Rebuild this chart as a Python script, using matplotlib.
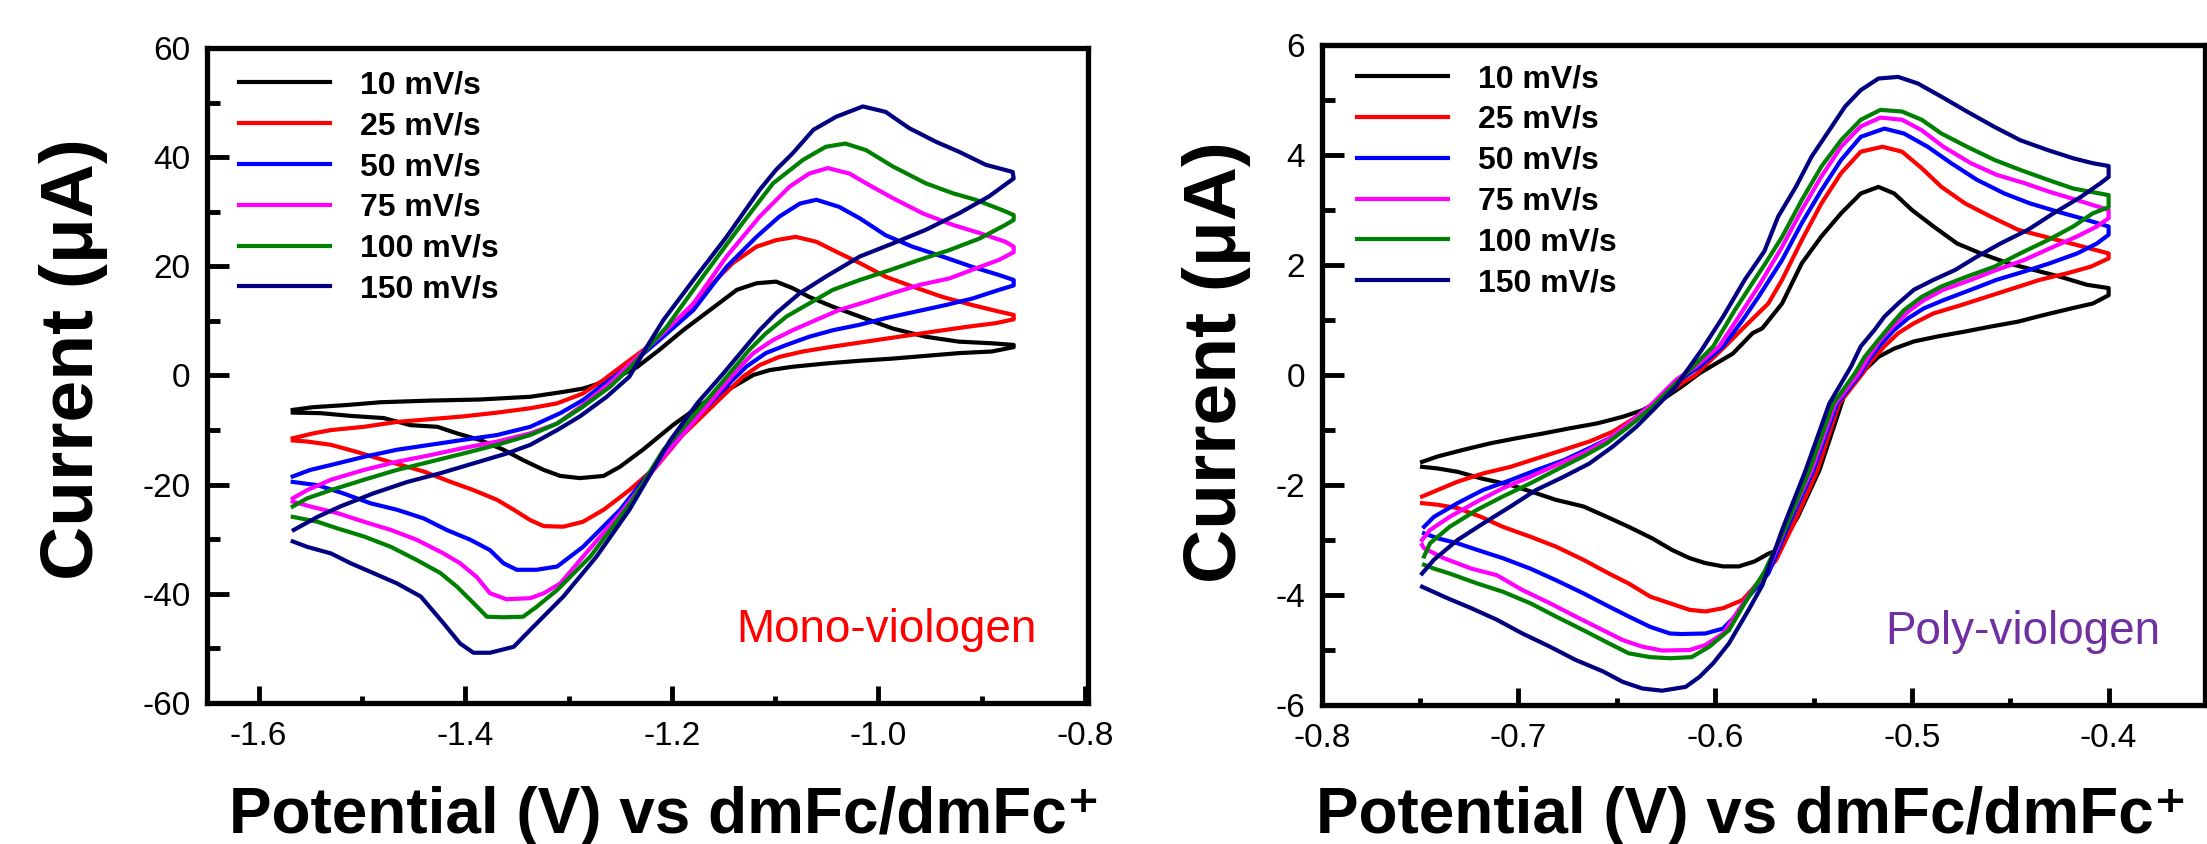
import matplotlib
matplotlib.use('Agg')
from matplotlib import pyplot as plt
from matplotlib.ticker import MultipleLocator

# scan rates and colours shared by both panels
rates = ['10 mV/s', '25 mV/s', '50 mV/s', '75 mV/s', '100 mV/s', '150 mV/s']
colors = ['#000000', '#ff0000', '#0000ff', '#ff00ff', '#008000', '#000080']

# ---- mono-viologen (left panel), potential in V, current in uA ----
mono_e_10 = [-1.567, -1.547, -1.514, -1.482, -1.434, -1.386, -1.337, -1.305, -1.286, -1.266, -1.250, -1.234,
             -1.212, -1.189, -1.163, -1.137, -1.118, -1.099, -1.083, -1.067, -1.044, -1.018, -0.986, -0.954,
             -0.922, -0.890, -0.869, -0.869, -0.890, -0.922, -0.954, -0.986, -1.018, -1.051, -1.083, -1.105,
             -1.121, -1.140, -1.163, -1.199, -1.228, -1.250, -1.266, -1.289, -1.308, -1.324, -1.344, -1.363,
             -1.386, -1.408, -1.427, -1.453, -1.479, -1.511, -1.540, -1.567]
mono_i_10 = [-6.3, -5.8, -5.4, -4.9, -4.6, -4.4, -3.9, -3.0, -2.4, -1.2, 0.0, 1.5,
             4.7, 8.3, 12.0, 15.7, 16.9, 17.2, 16.0, 14.4, 12.6, 10.8, 8.6, 7.1,
             6.2, 5.9, 5.6, 5.2, 4.4, 4.1, 3.6, 3.1, 2.7, 2.2, 1.6, 1.0,
             0.1, -2.0, -4.2, -9.1, -13.6, -16.7, -18.4, -18.8, -18.4, -17.3, -15.5, -13.6,
             -11.8, -10.6, -9.4, -9.1, -7.8, -7.4, -6.9, -6.8]

mono_e_25 = [-1.567, -1.547, -1.530, -1.498, -1.466, -1.434, -1.402, -1.369, -1.337, -1.311, -1.286, -1.266,
             -1.250, -1.225, -1.199, -1.170, -1.141, -1.118, -1.099, -1.080, -1.060, -1.041, -1.018, -0.993,
             -0.967, -0.938, -0.909, -0.883, -0.869, -0.869, -0.886, -0.915, -0.948, -0.980, -1.012, -1.044,
             -1.073, -1.096, -1.115, -1.131, -1.160, -1.190, -1.215, -1.241, -1.266, -1.286, -1.305, -1.324,
             -1.337, -1.353, -1.369, -1.392, -1.414, -1.440, -1.479, -1.505, -1.530, -1.553, -1.567]
mono_i_25 = [-11.5, -10.6, -10.0, -9.4, -8.5, -8.0, -7.5, -6.8, -6.0, -5.1, -3.3, -0.8,
             1.5, 5.0, 8.9, 15.1, 20.6, 23.6, 24.8, 25.4, 24.5, 22.7, 20.6, 18.1,
             16.3, 14.4, 12.9, 11.7, 11.1, 10.3, 9.6, 8.9, 8.0, 7.1, 6.2, 5.3,
             4.4, 3.4, 1.9, -0.2, -5.5, -11.0, -16.7, -21.0, -24.6, -26.8, -27.7, -27.6,
             -26.5, -24.6, -22.8, -21.0, -19.5, -17.6, -15.5, -14.0, -12.7, -12.1, -11.9]

mono_e_50 = [-1.567, -1.550, -1.530, -1.498, -1.466, -1.434, -1.402, -1.369, -1.337, -1.308, -1.286, -1.260,
             -1.240, -1.212, -1.179, -1.147, -1.118, -1.096, -1.076, -1.060, -1.038, -1.018, -0.993, -0.967,
             -0.938, -0.909, -0.883, -0.869, -0.869, -0.883, -0.909, -0.935, -0.964, -0.993, -1.018, -1.044,
             -1.067, -1.089, -1.109, -1.128, -1.141, -1.175, -1.212, -1.250, -1.286, -1.311, -1.331, -1.350,
             -1.363, -1.376, -1.395, -1.418, -1.440, -1.466, -1.492, -1.518, -1.543, -1.567]
mono_i_50 = [-18.5, -17.3, -16.4, -14.9, -13.6, -12.7, -11.8, -10.9, -9.4, -6.9, -4.5, -0.8,
             2.0, 6.5, 12.0, 19.9, 25.4, 29.1, 31.5, 32.2, 30.9, 28.8, 25.7, 23.6,
             21.8, 19.9, 18.4, 17.5, 16.5, 15.7, 14.1, 12.9, 11.7, 10.5, 9.3, 8.3,
             7.1, 5.6, 4.1, 1.6, -0.8, -7.5, -15.5, -24.6, -31.4, -35.0, -35.6, -35.6,
             -34.4, -32.0, -30.1, -28.3, -26.2, -24.6, -23.4, -21.6, -20.1, -19.5]

mono_e_75 = [-1.567, -1.553, -1.530, -1.498, -1.466, -1.434, -1.402, -1.369, -1.337, -1.311, -1.286, -1.260,
             -1.240, -1.212, -1.179, -1.147, -1.115, -1.086, -1.067, -1.049, -1.028, -1.009, -0.986, -0.957,
             -0.928, -0.902, -0.877, -0.869, -0.869, -0.883, -0.906, -0.931, -0.960, -0.986, -1.012, -1.038,
             -1.060, -1.083, -1.102, -1.121, -1.137, -1.170, -1.208, -1.247, -1.286, -1.308, -1.324, -1.337,
             -1.360, -1.376, -1.389, -1.405, -1.421, -1.447, -1.472, -1.498, -1.524, -1.550, -1.567]
mono_i_75 = [-22.5, -21.0, -19.1, -17.3, -15.8, -14.6, -13.3, -12.1, -10.6, -8.8, -5.4, -1.4,
             2.2, 7.1, 13.2, 21.8, 29.1, 34.6, 37.0, 38.0, 37.0, 34.9, 32.5, 29.7,
             27.6, 26.1, 24.5, 23.6, 22.6, 21.2, 19.6, 17.8, 16.6, 15.1, 13.5, 12.0,
             10.2, 8.3, 6.5, 4.1, 1.0, -6.5, -14.9, -24.6, -33.2, -38.1, -39.9, -40.8,
             -41.0, -39.9, -36.9, -34.4, -32.6, -30.1, -28.3, -26.8, -25.2, -24.0, -23.1]

mono_e_100 = [-1.567, -1.553, -1.530, -1.498, -1.466, -1.434, -1.402, -1.369, -1.337, -1.311, -1.286, -1.260,
              -1.240, -1.205, -1.170, -1.134, -1.102, -1.073, -1.051, -1.032, -1.012, -0.986, -0.954, -0.928,
              -0.906, -0.880, -0.869, -0.869, -0.877, -0.902, -0.931, -0.960, -0.989, -1.018, -1.044, -1.067,
              -1.089, -1.109, -1.125, -1.144, -1.175, -1.208, -1.240, -1.279, -1.311, -1.331, -1.344, -1.363,
              -1.379, -1.392, -1.408, -1.424, -1.447, -1.472, -1.498, -1.524, -1.543, -1.567]
mono_i_100 = [-24.0, -22.5, -21.0, -19.1, -17.3, -15.8, -14.3, -12.7, -10.9, -8.8, -5.7, -2.1,
              1.5, 8.9, 18.1, 27.3, 35.2, 39.5, 41.9, 42.5, 41.3, 38.3, 35.2, 33.4,
              32.2, 30.3, 29.4, 28.5, 27.6, 25.1, 23.0, 21.2, 19.3, 17.5, 15.7, 13.2,
              10.8, 7.7, 4.7, 0.4, -6.5, -13.6, -23.4, -33.2, -39.3, -42.4, -44.2, -44.3,
              -44.2, -41.7, -38.7, -36.2, -33.8, -31.4, -29.5, -28.0, -26.8, -25.9]

mono_e_150 = [-1.566, -1.543, -1.521, -1.489, -1.456, -1.424, -1.392, -1.360, -1.337, -1.311, -1.289, -1.263,
              -1.241, -1.225, -1.208, -1.179, -1.147, -1.115, -1.099, -1.083, -1.063, -1.041, -1.015, -0.993,
              -0.970, -0.944, -0.922, -0.896, -0.870, -0.869, -0.893, -0.922, -0.954, -0.986, -1.018, -1.051,
              -1.076, -1.099, -1.115, -1.131, -1.150, -1.175, -1.202, -1.241, -1.273, -1.305, -1.337, -1.353,
              -1.376, -1.392, -1.405, -1.421, -1.443, -1.466, -1.489, -1.511, -1.530, -1.553, -1.567]
mono_i_150 = [-28.3, -25.9, -24.0, -21.6, -19.5, -17.9, -16.1, -14.3, -12.7, -10.0, -7.5, -3.9,
              -0.2, 5.0, 10.2, 17.5, 25.4, 34.0, 37.7, 40.7, 45.0, 47.4, 49.3, 48.3,
              45.3, 42.8, 41.0, 38.6, 37.3, 36.1, 32.8, 29.7, 26.7, 24.2, 21.8, 18.1,
              15.1, 11.4, 8.3, 4.7, 0.4, -5.0, -12.0, -24.6, -33.2, -40.5, -46.6, -49.7,
              -50.8, -50.8, -49.1, -45.4, -40.5, -38.1, -36.2, -34.4, -32.6, -31.4, -30.4]

# ---- poly-viologen (right panel) ----
poly_e_10 = [-0.749, -0.741, -0.728, -0.714, -0.701, -0.687, -0.674, -0.660, -0.647, -0.637, -0.627, -0.617,
             -0.608, -0.591, -0.581, -0.576, -0.566, -0.556, -0.546, -0.536, -0.526, -0.517, -0.509, -0.500,
             -0.489, -0.477, -0.465, -0.451, -0.438, -0.425, -0.411, -0.400, -0.400, -0.408, -0.419, -0.433,
             -0.446, -0.460, -0.473, -0.487, -0.499, -0.509, -0.517, -0.524, -0.534, -0.547, -0.558, -0.568,
             -0.573, -0.580, -0.588, -0.596, -0.605, -0.613, -0.622, -0.632, -0.644, -0.655, -0.667, -0.681,
             -0.691, -0.704, -0.719, -0.731, -0.741, -0.749]
poly_i_10 = [-1.58, -1.48, -1.36, -1.24, -1.15, -1.06, -0.97, -0.88, -0.76, -0.64, -0.45, -0.21,
             0.03, 0.39, 0.76, 0.85, 1.30, 2.03, 2.52, 2.94, 3.30, 3.42, 3.30, 3.00,
             2.70, 2.39, 2.21, 2.03, 1.91, 1.79, 1.64, 1.58, 1.45, 1.30, 1.21, 1.09,
             0.97, 0.88, 0.79, 0.70, 0.61, 0.48, 0.33, 0.09, -0.33, -1.73, -2.58, -3.18,
             -3.25, -3.39, -3.48, -3.48, -3.42, -3.33, -3.18, -2.97, -2.76, -2.58, -2.39, -2.27,
             -2.15, -2.00, -1.88, -1.76, -1.70, -1.67]

poly_e_25 = [-0.749, -0.741, -0.731, -0.718, -0.704, -0.691, -0.677, -0.664, -0.652, -0.640, -0.628, -0.617,
             -0.610, -0.595, -0.585, -0.573, -0.566, -0.556, -0.546, -0.536, -0.526, -0.515, -0.505, -0.495,
             -0.485, -0.473, -0.460, -0.446, -0.433, -0.419, -0.400, -0.400, -0.409, -0.421, -0.435, -0.448,
             -0.462, -0.475, -0.489, -0.499, -0.507, -0.514, -0.521, -0.525, -0.537, -0.548, -0.560, -0.569,
             -0.580, -0.586, -0.596, -0.605, -0.613, -0.623, -0.633, -0.644, -0.654, -0.667, -0.681, -0.694,
             -0.708, -0.719, -0.731, -0.741, -0.749]
poly_i_25 = [-2.21, -2.09, -1.94, -1.79, -1.67, -1.52, -1.36, -1.21, -1.03, -0.76, -0.45, -0.15,
             0.00, 0.52, 0.88, 1.30, 1.73, 2.45, 3.12, 3.67, 4.06, 4.15, 4.06, 3.76,
             3.42, 3.12, 2.88, 2.64, 2.52, 2.39, 2.21, 2.12, 1.97, 1.85, 1.73, 1.58,
             1.42, 1.27, 1.12, 0.94, 0.76, 0.52, 0.24, 0.03, -0.52, -1.73, -2.70, -3.36,
             -3.85, -4.09, -4.24, -4.30, -4.27, -4.15, -4.03, -3.79, -3.61, -3.36, -3.12, -2.94,
             -2.76, -2.58, -2.42, -2.36, -2.33]

poly_e_50 = [-0.748, -0.743, -0.731, -0.718, -0.704, -0.691, -0.677, -0.664, -0.652, -0.640, -0.630, -0.618,
             -0.608, -0.596, -0.586, -0.578, -0.566, -0.556, -0.546, -0.536, -0.526, -0.514, -0.504, -0.492,
             -0.480, -0.467, -0.453, -0.440, -0.426, -0.414, -0.400, -0.400, -0.406, -0.416, -0.430, -0.443,
             -0.457, -0.470, -0.484, -0.494, -0.502, -0.509, -0.516, -0.522, -0.526, -0.538, -0.550, -0.563,
             -0.573, -0.583, -0.590, -0.596, -0.605, -0.617, -0.623, -0.633, -0.644, -0.654, -0.667, -0.681,
             -0.694, -0.708, -0.721, -0.731, -0.741, -0.748]
poly_i_50 = [-2.76, -2.58, -2.33, -2.09, -1.91, -1.73, -1.55, -1.33, -1.12, -0.82, -0.48, -0.09,
             0.15, 0.52, 1.00, 1.42, 2.09, 2.76, 3.36, 3.91, 4.33, 4.48, 4.39, 4.15,
             3.85, 3.55, 3.30, 3.12, 2.97, 2.85, 2.70, 2.55, 2.39, 2.21, 2.03, 1.88,
             1.73, 1.55, 1.36, 1.21, 1.03, 0.82, 0.55, 0.27, 0.03, -0.52, -1.73, -2.76,
             -3.61, -4.03, -4.39, -4.61, -4.70, -4.71, -4.70, -4.58, -4.39, -4.21, -3.97, -3.73,
             -3.52, -3.33, -3.18, -3.06, -2.97, -2.88]

poly_e_75 = [-0.749, -0.745, -0.735, -0.721, -0.708, -0.694, -0.681, -0.667, -0.655, -0.644, -0.632, -0.620,
             -0.610, -0.598, -0.588, -0.578, -0.566, -0.556, -0.546, -0.536, -0.526, -0.516, -0.505, -0.495,
             -0.484, -0.470, -0.457, -0.443, -0.430, -0.416, -0.408, -0.400, -0.400, -0.406, -0.416, -0.430,
             -0.443, -0.457, -0.470, -0.484, -0.494, -0.502, -0.509, -0.516, -0.522, -0.527, -0.539, -0.551,
             -0.564, -0.574, -0.580, -0.588, -0.596, -0.605, -0.613, -0.627, -0.637, -0.647, -0.657, -0.671,
             -0.684, -0.698, -0.711, -0.724, -0.738, -0.748, -0.749]
poly_i_75 = [-3.00, -2.82, -2.58, -2.30, -2.06, -1.85, -1.64, -1.42, -1.18, -0.88, -0.52, -0.09,
             0.15, 0.52, 1.06, 1.61, 2.33, 3.00, 3.61, 4.15, 4.52, 4.68, 4.64, 4.45,
             4.15, 3.85, 3.64, 3.49, 3.33, 3.18, 3.09, 3.00, 2.85, 2.70, 2.52, 2.30,
             2.09, 1.91, 1.73, 1.55, 1.36, 1.15, 0.91, 0.64, 0.33, 0.03, -0.52, -1.73,
             -2.76, -3.61, -3.85, -4.27, -4.70, -4.91, -5.00, -5.01, -4.94, -4.82, -4.64, -4.39,
             -4.15, -3.91, -3.64, -3.52, -3.33, -3.15, -3.09]

poly_e_100 = [-0.748, -0.745, -0.735, -0.721, -0.708, -0.694, -0.681, -0.667, -0.655, -0.644, -0.632, -0.620,
              -0.613, -0.601, -0.590, -0.580, -0.575, -0.566, -0.556, -0.546, -0.536, -0.526, -0.516, -0.505,
              -0.495, -0.485, -0.472, -0.458, -0.445, -0.431, -0.418, -0.400, -0.400, -0.408, -0.418, -0.431,
              -0.445, -0.458, -0.472, -0.485, -0.495, -0.504, -0.510, -0.517, -0.524, -0.529, -0.540, -0.552,
              -0.564, -0.575, -0.585, -0.593, -0.603, -0.612, -0.623, -0.633, -0.644, -0.654, -0.667, -0.681,
              -0.694, -0.708, -0.721, -0.735, -0.743, -0.748]
poly_i_100 = [-3.30, -3.06, -2.76, -2.45, -2.21, -1.97, -1.73, -1.48, -1.24, -0.94, -0.58, -0.15,
              0.09, 0.52, 1.18, 1.73, 2.00, 2.51, 3.18, 3.79, 4.27, 4.64, 4.82, 4.79,
              4.64, 4.39, 4.15, 3.91, 3.73, 3.55, 3.39, 3.27, 3.05, 2.94, 2.70, 2.45,
              2.21, 1.97, 1.79, 1.61, 1.42, 1.18, 0.94, 0.64, 0.33, 0.03, -0.52, -1.73,
              -2.76, -3.58, -4.15, -4.64, -4.94, -5.13, -5.15, -5.13, -5.06, -4.88, -4.64, -4.39,
              -4.15, -3.94, -3.79, -3.61, -3.52, -3.45]

poly_e_150 = [-0.749, -0.743, -0.731, -0.718, -0.704, -0.691, -0.677, -0.664, -0.652, -0.640, -0.630, -0.620,
              -0.615, -0.607, -0.596, -0.585, -0.575, -0.568, -0.559, -0.551, -0.542, -0.534, -0.526, -0.517,
              -0.507, -0.497, -0.485, -0.472, -0.458, -0.445, -0.431, -0.418, -0.408, -0.400, -0.400, -0.404,
              -0.414, -0.428, -0.441, -0.455, -0.467, -0.478, -0.489, -0.499, -0.507, -0.514, -0.519, -0.526,
              -0.531, -0.542, -0.554, -0.566, -0.576, -0.583, -0.593, -0.601, -0.608, -0.615, -0.627, -0.637,
              -0.647, -0.657, -0.671, -0.684, -0.698, -0.711, -0.724, -0.736, -0.749]
poly_i_150 = [-3.61, -3.36, -3.00, -2.70, -2.39, -2.09, -1.85, -1.61, -1.30, -0.94, -0.58, -0.21,
              0.05, 0.45, 1.06, 1.73, 2.25, 2.88, 3.42, 3.97, 4.45, 4.88, 5.18, 5.39,
              5.42, 5.30, 5.06, 4.79, 4.51, 4.27, 4.09, 3.94, 3.85, 3.80, 3.60, 3.49,
              3.24, 2.94, 2.64, 2.39, 2.15, 1.91, 1.73, 1.55, 1.30, 1.06, 0.82, 0.52,
              0.15, -0.52, -1.73, -2.82, -3.82, -4.27, -4.88, -5.24, -5.49, -5.67, -5.74, -5.70,
              -5.58, -5.39, -5.18, -4.94, -4.70, -4.45, -4.24, -4.06, -3.85]

mono_curves = [(mono_e_10, mono_i_10), (mono_e_25, mono_i_25), (mono_e_50, mono_i_50),
               (mono_e_75, mono_i_75), (mono_e_100, mono_i_100), (mono_e_150, mono_i_150)]
poly_curves = [(poly_e_10, poly_i_10), (poly_e_25, poly_i_25), (poly_e_50, poly_i_50),
               (poly_e_75, poly_i_75), (poly_e_100, poly_i_100), (poly_e_150, poly_i_150)]

plt.rcParams['font.family'] = ['Liberation Sans', 'DejaVu Sans']
plt.rcParams['axes.unicode_minus'] = False
plt.rcParams['axes.linewidth'] = 3.8

xlabel = 'Potential (V) vs dmFc/dmFc\u207a'
ylabel = 'Current (\u03bcA)'


def draw_panel(ax, curves, note, note_color, note_x, xlim, ylim, xmaj, ymaj, leg_anchor,
               xlab_pos, ylab_pos):
    for (e, i), c, r in zip(curves, colors, rates):
        ax.plot(e, i, color=c, lw=3.0, label=r)
    ax.set_xlim(*xlim)
    ax.set_ylim(*ylim)
    ax.xaxis.set_major_locator(MultipleLocator(xmaj))
    ax.xaxis.set_minor_locator(MultipleLocator(xmaj / 2))
    ax.yaxis.set_major_locator(MultipleLocator(ymaj))
    ax.yaxis.set_minor_locator(MultipleLocator(ymaj / 2))
    ax.tick_params(axis='x', which='major', direction='in', length=12, width=3.5, pad=13,
                   labelsize=24)
    ax.tick_params(axis='x', which='minor', direction='in', length=5, width=3.5)
    ax.tick_params(axis='y', which='major', direction='in', length=16, width=3.5, pad=12,
                   labelsize=24)
    ax.tick_params(axis='y', which='minor', direction='in', length=9, width=3.5)
    ax.set_xlabel(xlabel, fontsize=46, fontweight='bold', va='center')
    ax.set_ylabel(ylabel, fontsize=54, fontweight='bold', va='center')
    ax.xaxis.set_label_coords(*xlab_pos)
    ax.yaxis.set_label_coords(*ylab_pos)
    ax.legend(loc='upper left', bbox_to_anchor=leg_anchor, frameon=False, borderpad=0,
              borderaxespad=0, handlelength=2.85, handletextpad=0.94, labelspacing=0.34,
              prop={'weight': 'bold', 'size': 23})
    ax.text(note_x, 0.093, note, transform=ax.transAxes, ha='right', va='baseline',
            color=note_color, fontsize=33)


fig = plt.figure(figsize=(22.07, 8.44), dpi=100)
ax1 = fig.add_axes([0.0938, 0.1671, 0.3992, 0.776])
ax2 = fig.add_axes([0.5989, 0.1647, 0.4002, 0.782])

draw_panel(ax1, mono_curves, 'Mono-viologen', '#ff0000', 0.942, (-1.65, -0.797), (-60, 60), 0.2, 20,
           (0.036, 0.966), (0.519, -0.172), (-0.152, 0.525))
draw_panel(ax2, poly_curves, 'Poly-viologen', '#7030a0', 0.950, (-0.8, -0.351), (-6, 6), 0.1, 2,
           (0.040, 0.971), (0.487, -0.168), (-0.119, 0.52))

fig.savefig('out.png', dpi=100)
